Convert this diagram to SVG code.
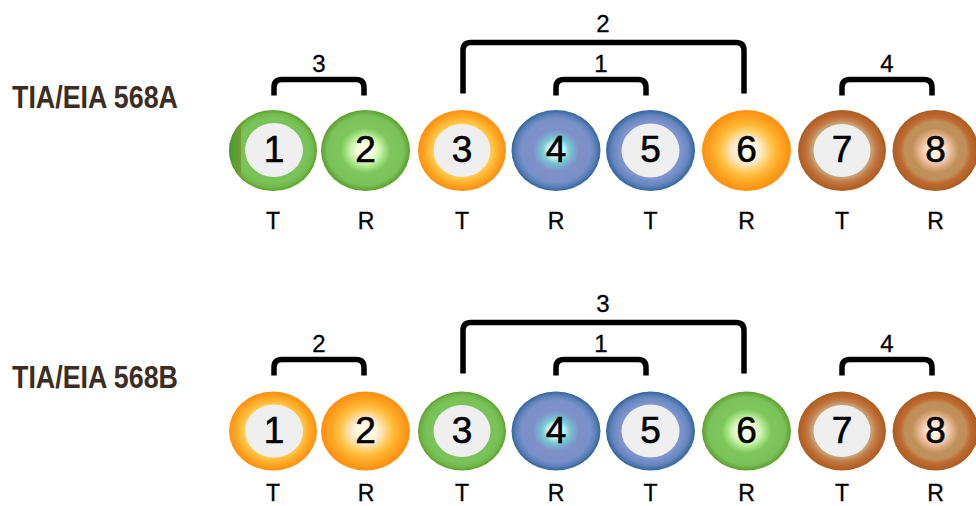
<svg xmlns="http://www.w3.org/2000/svg" width="976" height="506" viewBox="0 0 976 506">
<style>
.std{font-family:"Liberation Sans",Arial,sans-serif;font-weight:bold;font-size:31.5px;fill:#3b2d22}
.num{font-family:"Liberation Sans",Arial,sans-serif;font-size:37px;fill:#000;stroke:#000;stroke-width:0.6;text-anchor:middle}
.tr{font-family:"Liberation Sans",Arial,sans-serif;font-size:23px;fill:#000;stroke:#000;stroke-width:0.3;text-anchor:middle}
.pl{font-family:"Liberation Sans",Arial,sans-serif;font-size:24px;fill:#000;stroke:#000;stroke-width:0.3;text-anchor:middle}
.br{fill:none;stroke:#000;stroke-width:5.5}
.disc{fill:#efefef}
</style>
<defs>
<radialGradient id="g1"><stop offset="0" stop-color="#7ac35a"/><stop offset="0.8" stop-color="#7ac35a"/><stop offset="0.92" stop-color="#70b848"/><stop offset="1" stop-color="#5e9e2e"/></radialGradient>
<radialGradient id="g2"><stop offset="0" stop-color="#fffff2"/><stop offset="0.18" stop-color="#f6ffdc"/><stop offset="0.32" stop-color="#d0f4b0"/><stop offset="0.44" stop-color="#a0e080"/><stop offset="0.56" stop-color="#7ec65c"/><stop offset="0.85" stop-color="#7ac35a"/><stop offset="1" stop-color="#5e9e2e"/></radialGradient>
<radialGradient id="o1"><stop offset="0" stop-color="#ffd25a"/><stop offset="0.62" stop-color="#ffd25a"/><stop offset="0.72" stop-color="#ffc040"/><stop offset="0.86" stop-color="#ffa522"/><stop offset="1" stop-color="#ff8e10"/></radialGradient>
<radialGradient id="o2"><stop offset="0" stop-color="#fffef0"/><stop offset="0.22" stop-color="#fff8dc"/><stop offset="0.36" stop-color="#ffe4bc"/><stop offset="0.48" stop-color="#ffd274"/><stop offset="0.62" stop-color="#ffbc3c"/><stop offset="0.8" stop-color="#ffa422"/><stop offset="1" stop-color="#ff8e10"/></radialGradient>
<radialGradient id="b1"><stop offset="0" stop-color="#7f94cc"/><stop offset="0.7" stop-color="#7f94cc"/><stop offset="0.86" stop-color="#6686c0"/><stop offset="1" stop-color="#34659a"/></radialGradient>
<radialGradient id="b2"><stop offset="0" stop-color="#f0fcff"/><stop offset="0.18" stop-color="#d0f4fa"/><stop offset="0.3" stop-color="#78cad2"/><stop offset="0.42" stop-color="#7aa8d0"/><stop offset="0.52" stop-color="#7f90c8"/><stop offset="0.78" stop-color="#7a90c8"/><stop offset="0.9" stop-color="#5a80b8"/><stop offset="1" stop-color="#34659a"/></radialGradient>
<radialGradient id="n1"><stop offset="0" stop-color="#c8a070"/><stop offset="0.68" stop-color="#c8a070"/><stop offset="0.76" stop-color="#c08050"/><stop offset="0.86" stop-color="#c06a30"/><stop offset="1" stop-color="#a85e22"/></radialGradient>
<radialGradient id="n2"><stop offset="0" stop-color="#fffae0"/><stop offset="0.18" stop-color="#ffecd6"/><stop offset="0.32" stop-color="#f0c4ac"/><stop offset="0.44" stop-color="#d8a878"/><stop offset="0.55" stop-color="#c0905a"/><stop offset="0.72" stop-color="#c0905a"/><stop offset="0.82" stop-color="#c06a30"/><stop offset="1" stop-color="#a85e22"/></radialGradient>
<linearGradient id="crescent" x1="0" y1="0" x2="1" y2="0"><stop offset="0" stop-color="#3a9e3a"/><stop offset="1" stop-color="#7a9a30"/></linearGradient>
<clipPath id="c1a"><ellipse cx="273" cy="150.5" rx="44" ry="40.5"/></clipPath>
</defs>

<g id="label-568A"><text class="std" x="12" y="108" textLength="166" lengthAdjust="spacingAndGlyphs">TIA/EIA 568A</text></g>
<g id="label-568B"><text class="std" x="12" y="388" textLength="166" lengthAdjust="spacingAndGlyphs">TIA/EIA 568B</text></g>

<g id="connectors">
<path class="br" d="M274 95.5V87.5Q274 79.5 282 79.5H356Q364 79.5 364 87.5V95.5"/>
<path class="br" d="M463 93.5V50.5Q463 42.5 471 42.5H736Q744 42.5 744 50.5V93.5"/>
<path class="br" d="M556 95.5V87.5Q556 79.5 564 79.5H638Q646 79.5 646 87.5V95.5"/>
<path class="br" d="M842 95.5V87.5Q842 79.5 850 79.5H924Q932 79.5 932 87.5V95.5"/>
<path class="br" d="M274 375.5V367.5Q274 359.5 282 359.5H356Q364 359.5 364 367.5V375.5"/>
<path class="br" d="M463 373.5V330.5Q463 322.5 471 322.5H736Q744 322.5 744 330.5V373.5"/>
<path class="br" d="M556 375.5V367.5Q556 359.5 564 359.5H638Q646 359.5 646 367.5V375.5"/>
<path class="br" d="M842 375.5V367.5Q842 359.5 850 359.5H924Q932 359.5 932 367.5V375.5"/>
<text class="pl" x="319" y="72">3</text>
<text class="pl" x="603" y="31.5">2</text>
<text class="pl" x="601" y="72">1</text>
<text class="pl" x="887" y="72">4</text>
<text class="pl" x="319" y="352">2</text>
<text class="pl" x="603" y="311.5">3</text>
<text class="pl" x="601" y="352">1</text>
<text class="pl" x="887" y="352">4</text>
</g>

<!-- Row A (568A) -->
<g id="a1"><ellipse cx="273" cy="150.5" rx="44" ry="40.5" fill="url(#g1)"/><rect x="228" y="108" width="13" height="86" fill="url(#crescent)" clip-path="url(#c1a)"/><ellipse class="disc" cx="274" cy="150" rx="29" ry="27"/><text class="num" x="274" y="162">1</text><text class="tr" x="273" y="229">T</text></g>
<g id="a2"><ellipse cx="365.5" cy="150.5" rx="44.5" ry="40.5" fill="url(#g2)"/><text class="num" x="365.5" y="162">2</text><text class="tr" x="366" y="229">R</text></g>
<g id="a3"><ellipse cx="462" cy="150.5" rx="44" ry="40.5" fill="url(#o1)"/><ellipse class="disc" cx="462" cy="150.5" rx="28.5" ry="26.5"/><text class="num" x="462" y="162">3</text><text class="tr" x="462" y="229">T</text></g>
<g id="a4"><ellipse cx="556" cy="150.5" rx="44.5" ry="40.5" fill="url(#b2)"/><text class="num" x="556" y="162">4</text><text class="tr" x="556" y="229">R</text></g>
<g id="a5"><ellipse cx="650.5" cy="150.5" rx="44.5" ry="40.5" fill="url(#b1)"/><ellipse class="disc" cx="650.5" cy="150.5" rx="29" ry="27"/><text class="num" x="650.5" y="162">5</text><text class="tr" x="650.5" y="229">T</text></g>
<g id="a6"><ellipse cx="746.5" cy="150.5" rx="44.5" ry="40.5" fill="url(#o2)"/><text class="num" x="746.5" y="162">6</text><text class="tr" x="746.5" y="229">R</text></g>
<g id="a7"><ellipse cx="842" cy="150.5" rx="44" ry="40.5" fill="url(#n1)"/><ellipse class="disc" cx="842" cy="150.5" rx="28.5" ry="26.5"/><text class="num" x="842" y="162">7</text><text class="tr" x="842" y="229">T</text></g>
<g id="a8"><ellipse cx="935.5" cy="150.5" rx="43" ry="40.5" fill="url(#n2)"/><text class="num" x="935.5" y="162">8</text><text class="tr" x="935.5" y="229">R</text></g>

<!-- Row B (568B) -->
<g id="b1n"><ellipse cx="273" cy="431" rx="44" ry="39.5" fill="url(#o1)"/><ellipse class="disc" cx="274" cy="431" rx="29" ry="26.5"/><text class="num" x="274" y="442.5">1</text><text class="tr" x="273" y="501">T</text></g>
<g id="b2n"><ellipse cx="365.5" cy="431" rx="44.5" ry="39.5" fill="url(#o2)"/><text class="num" x="365.5" y="442.5">2</text><text class="tr" x="366" y="501">R</text></g>
<g id="b3n"><ellipse cx="462" cy="431" rx="44" ry="39.5" fill="url(#g1)"/><ellipse class="disc" cx="462" cy="431" rx="28.5" ry="26"/><text class="num" x="462" y="442.5">3</text><text class="tr" x="462" y="501">T</text></g>
<g id="b4n"><ellipse cx="556" cy="431" rx="44.5" ry="39.5" fill="url(#b2)"/><text class="num" x="556" y="442.5">4</text><text class="tr" x="556" y="501">R</text></g>
<g id="b5n"><ellipse cx="650.5" cy="431" rx="44.5" ry="39.5" fill="url(#b1)"/><ellipse class="disc" cx="650.5" cy="431" rx="29" ry="26.5"/><text class="num" x="650.5" y="442.5">5</text><text class="tr" x="650.5" y="501">T</text></g>
<g id="b6n"><ellipse cx="746.5" cy="431" rx="44.5" ry="39.5" fill="url(#g2)"/><text class="num" x="746.5" y="442.5">6</text><text class="tr" x="746.5" y="501">R</text></g>
<g id="b7n"><ellipse cx="842" cy="431" rx="44" ry="39.5" fill="url(#n1)"/><ellipse class="disc" cx="842" cy="431" rx="28.5" ry="26"/><text class="num" x="842" y="442.5">7</text><text class="tr" x="842" y="501">T</text></g>
<g id="b8n"><ellipse cx="935.5" cy="431" rx="43" ry="39.5" fill="url(#n2)"/><text class="num" x="935.5" y="442.5">8</text><text class="tr" x="935.5" y="501">R</text></g>
</svg>
